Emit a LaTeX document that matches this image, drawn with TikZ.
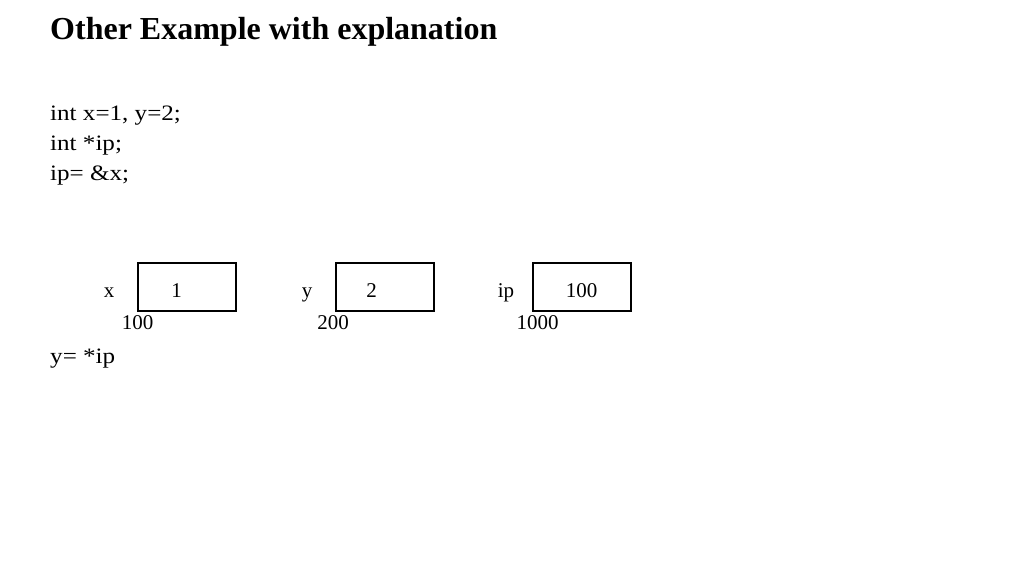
\documentclass[tikz,border=0pt]{standalone}
\usepackage{fontspec}
\setmainfont{Liberation Serif}
\begin{document}
\begin{tikzpicture}[x=1pt,y=-1pt,
  cell/.style={draw, line width=2pt, minimum width=98pt, minimum height=48pt, inner sep=0pt},
  lbl/.style={anchor=base, inner sep=0pt, font=\fontsize{21}{24}\selectfont},
  code/.style={anchor=base west, inner sep=0pt, font=\fontsize{22}{26}\selectfont, xscale=1.14}]
\useasboundingbox[fill=white] (0,0) rectangle (1024,576);
\node[anchor=base west, inner sep=0pt, font=\fontsize{32}{38}\selectfont\bfseries] (title) at (50,39) {Other Example with explanation};
\node[code] (l1) at (50,120) {int x=1, y=2;};
\node[code] (l2) at (50,150) {int *ip;};
\node[code] (l3) at (50,180) {ip= \&x;};
\node[code] (l4) at (50,363) {y= *ip};
% boxes
\node[cell] (bx) at (187,286.5) {};
\node[cell] (by) at (384.5,286.5) {};
\node[cell] (bip) at (582,286.5) {};
% values
\node[lbl] (vx) at (176.5,297) {1};
\node[lbl] (vy) at (371.5,297) {2};
\node[lbl] (vip) at (581.5,297) {100};
% names
\node[lbl] (nx) at (109,297) {x};
\node[lbl] (ny) at (307,297) {y};
\node[lbl] (nip) at (506,297) {ip};
% addresses
\node[lbl] (ax) at (137.5,329) {100};
\node[lbl] (ay) at (333,329) {200};
\node[lbl] (aip) at (537.5,329) {1000};
\end{tikzpicture}
\end{document}
